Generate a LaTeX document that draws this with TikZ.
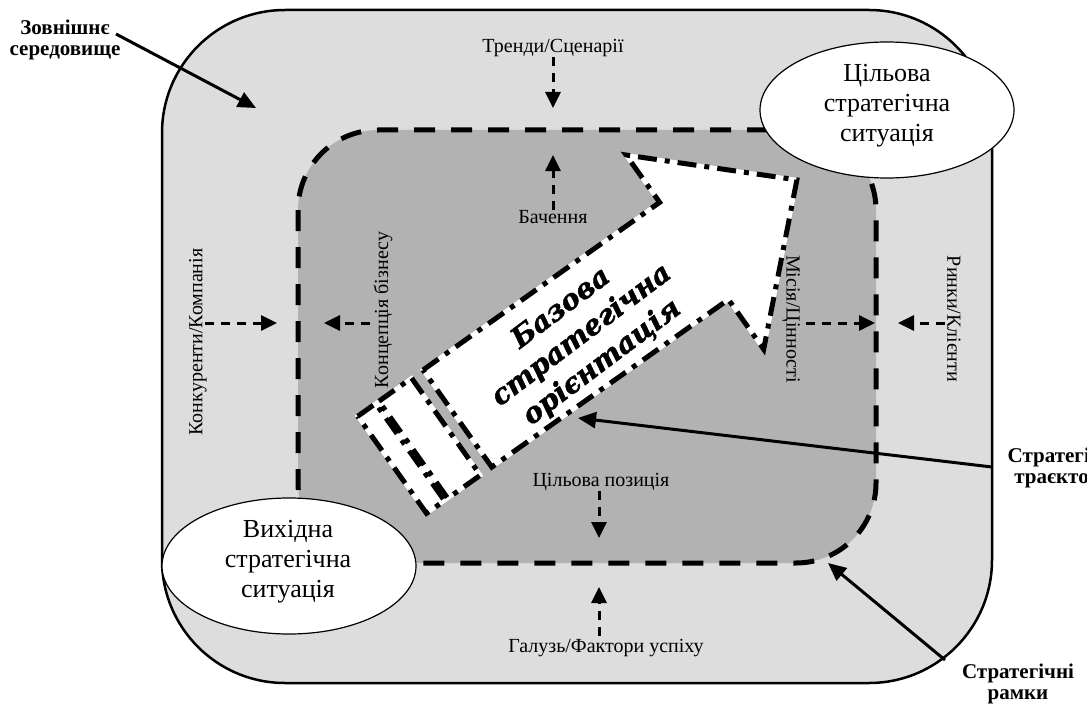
\documentclass[tikz,border=0pt]{standalone}
\usepackage{fontspec}
\setmainfont{Liberation Serif}
\newfontfamily\arrowfont{DejaVu Serif}[BoldItalicFeatures={FakeBold=1.6}]
\usetikzlibrary{arrows.meta,shapes.geometric}
\definecolor{envgray}{RGB}{221,221,221}
\definecolor{coregray}{RGB}{178,178,178}
\begin{document}
\begin{tikzpicture}[x=1pt, y=-1pt,
  envframe/.style={draw=black, line width=2.5pt, fill=envgray, rounded corners=123pt},
  coreframe/.style={draw=black, fill=coregray, line width=5pt, dash pattern=on 21pt off 16pt, rounded corners=80pt},
  sitellipse/.style={ellipse, draw=black, line width=1.2pt, fill=white, minimum width=254pt, minimum height=136pt, inner sep=0pt},
  sittext/.style={font=\fontsize{26}{30}\selectfont, align=center, inner sep=0pt},
  smalllbl/.style={font=\fontsize{20}{24}\selectfont, inner sep=0pt},
  boldlbl/.style={font=\bfseries\fontsize{21}{21}\selectfont, align=center, inner sep=0pt},
  dasharrow/.style={line width=3pt, dash pattern=on 9pt off 7pt, -{Triangle[length=16pt,width=15pt]}},
  pointer/.style={line width=3pt, -{Triangle[length=18pt,width=16pt]}},
  arrowpart/.style={preaction={fill=white, draw=white, line width=4pt, solid}, draw=black, line width=5pt, dash pattern=on 19pt off 8pt on 5pt off 8pt, line join=miter},
]
\useasboundingbox (0,0) rectangle (1087,706);

% environment and strategic frame
\path[envframe] (162,10) rectangle (992,683);
\path[coreframe] (298,130) rectangle (876,563);

% striped arrow of the basic strategic orientation (u along the shaft, n across it)
\begin{scope}[shift={(423,370)}, x={(0.816pt,0.578pt)}, y={(0.578pt,-0.816pt)}]
  \path[arrowpart] (-80,0) -- (-58,0) -- (-58,119) -- (-80,119) -- cycle;
  \path[arrowpart] (-54,0) -- (-14,0) -- (-14,119) -- (-54,119) -- cycle;
  \path[arrowpart] (0,0) -- (290,0) -- (290,-58) -- (415,61) -- (290,180) -- (290,119) -- (0,119) -- cycle;
\end{scope}
\node[font=\arrowfont\bfseries\itshape\fontsize{28}{34}\selectfont, align=center, rotate=37, inner sep=0pt] (orient) at (582,336) {Базова\\стратегічна\\орієнтація};

% start and target situations
\node[sitellipse] (target) at (887,110) {};
\node[sittext] (targettxt) at (887,106) {Цільова\\стратегічна\\ситуація};
\node[sitellipse] (start) at (289,566) {};
\node[sittext] (starttxt) at (288,562) {Вихідна\\стратегічна\\ситуація};

% factor labels
\node[smalllbl] (trend) at (553,48) {Тренди/Сценарії};
\node[smalllbl] (vision) at (553,217) {Бачення};
\node[smalllbl] (goalpos) at (601,482) {Цільова позиція};
\node[smalllbl] (industry) at (606,648) {Галузь/Фактори успіху};
\node[smalllbl, rotate=90] (compet) at (198,342) {Конкуренти/Компанія};
\node[smalllbl, rotate=90] (concept) at (383,310) {Концепція бізнесу};
\node[smalllbl, rotate=-90] (mission) at (791,319) {Місія/Цінності};
\node[smalllbl, rotate=-90] (markets) at (954,319) {Ринки/Клієнти};

% dashed influence arrows
\coordinate (trendTip) at (553,108);
\coordinate (visionTip) at (553,155);
\coordinate (goalTip) at (599,538);
\coordinate (indFrom) at (599,636);
\coordinate (indTip) at (599,587);
\coordinate (competFrom) at (205,323);
\coordinate (competTip) at (277,323);
\coordinate (conceptFrom) at (370,323);
\coordinate (conceptTip) at (324,323);
\coordinate (missionFrom) at (806,323);
\coordinate (missionTip) at (875,323);
\coordinate (marketsFrom) at (945,323);
\coordinate (marketsTip) at (898,323);
\draw[dasharrow] (trend.south -| trendTip) -- (trendTip);
\draw[dasharrow] (vision.north -| visionTip) -- (visionTip);
\draw[dasharrow] (goalpos.south -| goalTip) -- (goalTip);
\draw[dasharrow] (indFrom) -- (indTip);
\draw[dasharrow] (competFrom) -- (competTip);
\draw[dasharrow] (conceptFrom) -- (conceptTip);
\draw[dasharrow] (missionFrom) -- (missionTip);
\draw[dasharrow] (marketsFrom) -- (marketsTip);

% outer captions with pointers
\node[boldlbl] (envlbl) at (65,40) {Зовнішнє\\середовище};
\node[boldlbl] (trajlbl) at (1066,468) {Стратегічна\\траєкторія};
\node[boldlbl] (framelbl) at (1018,684) {Стратегічні\\рамки};
\coordinate (envFrom) at (116,34);
\coordinate (envTip) at (256,108);
\coordinate (trajFrom) at (992,467);
\coordinate (trajTip) at (578,418);
\coordinate (frameFrom) at (945,660);
\coordinate (frameTip) at (828,563);
\draw[pointer] (envFrom) -- (envTip);
\draw[pointer] (trajFrom) -- (trajTip);
\draw[pointer] (frameFrom) -- (frameTip);
\end{tikzpicture}
\end{document}
